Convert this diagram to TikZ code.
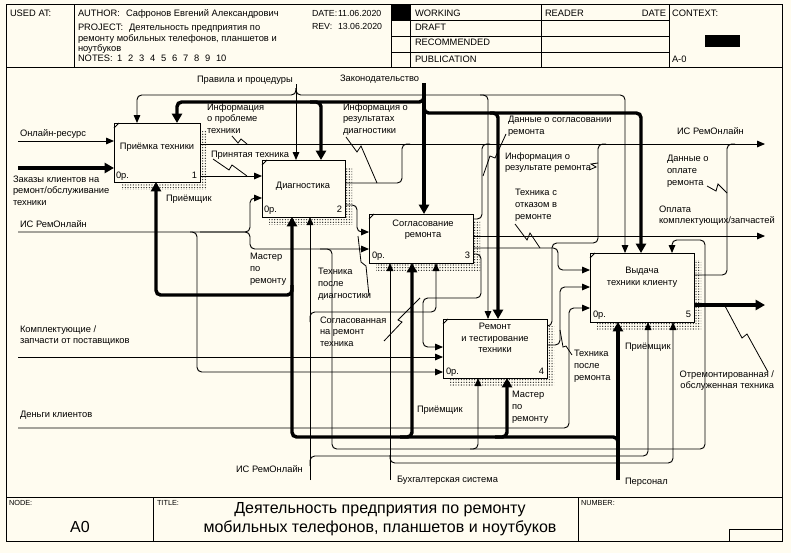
\documentclass[tikz,border=0pt]{standalone}
\usepackage{fontspec}
\setmainfont{Liberation Sans}
\usetikzlibrary{arrows.meta,patterns.meta,calc}
\definecolor{bg}{RGB}{255,252,240}
\begin{document}
\begin{tikzpicture}[x=0.75pt,y=-0.75pt,
  every node/.style={inner sep=0pt,outer sep=0pt},
  tn/.style={draw=black,line width=0.7pt},
  tk/.style={draw=black,line width=2.6pt},
  rc/.style={rounded corners=3.5pt},
  arw/.style={-{Triangle[length=6pt,width=5pt]}},
  arwK/.style={-{Triangle[length=7pt,width=7.5pt]}},
  box/.style={draw,line width=0.75pt,fill=bg},
  lb/.style={anchor=north west,align=left,font=\fontsize{7}{8.7}\selectfont,execute at begin node={\rule{0pt}{7pt}}},
  lbr/.style={anchor=north east,align=right,font=\fontsize{7}{8.7}\selectfont,execute at begin node={\rule{0pt}{7pt}}},
  bt/.style={anchor=north,align=center,font=\fontsize{7}{8.5}\selectfont,execute at begin node={\rule{0pt}{7pt}}},
  hd/.style={anchor=north west,align=left,font=\fontsize{7}{7.9}\selectfont,execute at begin node={\rule{0pt}{7pt}}},
  hds/.style={anchor=north west,align=left,font=\fontsize{6.6}{7.9}\selectfont,execute at begin node={\rule{0pt}{7pt}}},
  sm/.style={anchor=north west,font=\fontsize{5.5}{6}\selectfont,execute at begin node={\rule{0pt}{5.5pt}}},
  sq/.style={draw=black,line width=0.6pt},
  shd/.style={pattern={Dots[distance=2pt,radius=0.5pt]},pattern color=black!85},
]
\useasboundingbox (0,0) rectangle (791,553);
\fill[bg] (0,0) rectangle (791,553);

% ---------- frame and header ----------
\draw[line width=0.75pt] (6,4) rectangle (782,541);
\draw[line width=0.75pt] (6,67) -- (782,67);
\draw[line width=0.75pt] (74,4) -- (74,67);
\draw[line width=0.75pt] (391,4) -- (391,67);
\draw[line width=0.75pt] (410,4) -- (410,67);
\draw[line width=0.75pt] (541,4) -- (541,67);
\draw[line width=0.75pt] (669,4) -- (669,67);
\draw[line width=0.75pt] (391,20) -- (669,20) (391,36) -- (669,36) (391,52) -- (669,52);
\fill (391,4) rectangle (410,20);
\fill (705,35) rectangle (740,47);

\node[hd] (usedat) at (10,7.5) {USED AT:};
\node[hd] (author) at (78,7.5) {AUTHOR:};
\node[hd] (authorn) at (126,7.5) {Сафронов Евгений Александрович};
\node[hd] (project) at (78,21.5) {PROJECT:};
\node[hd] (projectn) at (129,21.5) {Деятельность предприятия по};
\node[hd] (project2) at (78,32) {ремонту мобильных телефонов, планшетов и};
\node[hd] (project3) at (78,42) {ноутбуков};
\node[hd] (notes) at (78,52.5) {NOTES:};
\foreach \k [count=\i from 0] in {1,2,3,4,5,6,7,8,9,10}
  \node[hd] (note\k) at (117+11*\i,52.5) {\k};
\node[hds] (date) at (312,7.5) {DATE:};
\node[hds] (datev) at (338,7.5) {11.06.2020};
\node[hds] (rev) at (312,20.5) {REV:};
\node[hds] (revv) at (338,20.5) {13.06.2020};
\node[hd] (working) at (415,7) {WORKING};
\node[hd] (draft) at (415,21.5) {DRAFT};
\node[hd] (recom) at (415,36.5) {RECOMMENDED};
\node[hd] (publ) at (415,53.5) {PUBLICATION};
\node[hd] (reader) at (545,7.5) {READER};
\node[hd,anchor=north east] (rdate) at (666,7.5) {DATE};
\node[hd] (context) at (672,7.5) {CONTEXT:};
\node[hd] (actx) at (672,53.5) {A-0};

% ---------- bottom block ----------
\draw[line width=0.75pt] (6,497) -- (782,497);
\draw[line width=0.75pt] (153,497) -- (153,541);
\draw[line width=0.75pt] (578,497) -- (578,541);
\draw[line width=0.75pt] (729,541) -- (729,529) -- (782,529);
\node[sm] (nodel) at (9,498.5) {NODE:};
\node[sm] (titlel) at (157,498.5) {TITLE:};
\node[sm] (numl) at (581,498.5) {NUMBER:};
\node[font=\fontsize{12}{14}\selectfont] (nodev) at (80,527) {A0};
\node[anchor=base,font=\fontsize{12}{14}\selectfont] (title1) at (380,513) {Деятельность предприятия по ремонту};
\node[anchor=base,font=\fontsize{12}{14}\selectfont] (title2) at (380,532) {мобильных телефонов, планшетов и ноутбуков};

% ---------- shadows ----------
\fill[shd] (121,130) rectangle (207,189);
\fill[shd] (269,167) rectangle (352,224);
\fill[shd] (376,221) rectangle (480,270);
\fill[shd] (450,326) rectangle (554,385);
\fill[shd] (597,260) rectangle (701,329);

% ---------- boxes ----------
\node[box,minimum width=64.5pt,minimum height=44.25pt] (b1) at (157,152.5) {};
\node[box,minimum width=62.25pt,minimum height=42.75pt] (b2) at (303.5,188.5) {};
\node[box,minimum width=78pt,minimum height=36.75pt] (b3) at (421,238.5) {};
\node[box,minimum width=78pt,minimum height=44.25pt] (b4) at (495,348.5) {};
\node[box,minimum width=78pt,minimum height=51.75pt] (b5) at (642,287.5) {};
\foreach \b in {b1,b2,b3,b4,b5}
  \draw[line width=0.6pt] ($(\b.north west)+(0,5)$) -- ($(\b.north west)+(5,0)$);

\node[bt] (b1t) at (157,140.5) {Приёмка техники};
\node[bt] (b2t) at (303,179.5) {Диагностика};
\node[bt,font=\fontsize{7}{8.3}\selectfont] (b3t) at (423,219.5) {Согласование\\ремонта};
\node[bt] (b4t) at (495,323.5) {Ремонт\\и тестирование\\техники};
\node[bt] (b5t) at (642,267.5) {Выдача\\техники клиенту};
\node[lb] (b1c) at (116,169.5) {0р.};
\node[lb] (b2c) at (264,203.5) {0р.};
\node[lb] (b3c) at (372,249.5) {0р.};
\node[lb] (b4c) at (446,365.5) {0р.};
\node[lb] (b5c) at (593,308.5) {0р.};
\node[lbr] (b1n) at (197,169.5) {1};
\node[lbr] (b2n) at (342,203.5) {2};
\node[lbr] (b3n) at (470,249.5) {3};
\node[lbr] (b4n) at (544,365.5) {4};
\node[lbr] (b5n) at (691,308.5) {5};

% ---------- boundary points ----------
\coordinate (iOnl) at (18,141);
\coordinate (iOrd) at (18,168);
\coordinate (iIS) at (18,232);
\coordinate (iKom) at (18,357);
\coordinate (iDen) at (18,428);
\coordinate (cPr) at (296,84);
\coordinate (cZak) at (424,83);
\coordinate (oIS) at (765,144);
\coordinate (oOpl) at (765,236);
\coordinate (oTech) at (765,305);
\coordinate (mPers) at (618,480);
\coordinate (mIS) at (310,480);
\coordinate (mBuh) at (390,480);

% ---------- inputs ----------
\draw[tn,arw] (iOnl) -- (iOnl -| b1.west);
\draw[tk,arwK] (iOrd) -- (iOrd -| b1.west);
\draw[tn,rc,arw] (iIS) -- (250,232) -- (250,198) -- (b2.west |- 0,198);
\draw[tn,rc,arw] (200,232) -- (250,232) -- (250,249) -- (b3.west |- 0,249);
\draw[tn,rc,arw] (190,232) -- (197,232) -- (197,372) -- (b4.west |- 0,372);
\draw[tn,arw] (iKom) -- (iKom -| b4.west);
\draw[tn,rc,arw] (iDen) -- (569,428) -- (569,308) -- (b5.west |- 0,308);
\draw[tn,rc,arw] (320,249) -- (332,249) -- (332,449) -- (705,449) -- (705,240) -- (672,240) -- (b5.north -| 672,0);
\draw[tn,rc,arw] (470,449) -- (478,449) -- (b4.south -| 478,0);

% ---------- controls ----------
\draw[tn,arw] (cPr) -- (cPr |- b2.north);
\draw[tn,rc,arw] (296,88) -- (296,95) -- (137,95) -- (b1.north -| 137,0);
\draw[tn,rc,arw] (296,88) -- (296,95) -- (625,95) -- (b5.north -| 625,0);
\draw[tn,rc,arw] (480,95) -- (488,95) -- (b4.north -| 488,0);
\draw[tk,arwK] (cZak) -- (cZak |- b3.north);
\draw[tk,rc,arwK] (424,92) -- (424,102) -- (177,102) -- (b1.north -| 177,0);
\draw[tk,rc,arwK] (310,102) -- (321,102) -- (b2.north -| 321,0);
\draw[tk,rc,arwK] (424,102) -- (424,113) -- (641,113) -- (b5.north -| 641,0);
\draw[tk,rc,arwK] (490,113) -- (498,113) -- (b4.north -| 498,0);

% ---------- outputs ----------
\draw[tn,arw] (b1.east |- 0,144) -- (oIS);
\draw[tn,arw] (b1.east |- 0,176) -- (b2.west |- 0,176);
\draw[tn,rc] (b2.east |- 0,183) -- (402,183) -- (402,144) -- (410,144);
\draw[tn,rc,arw] (b2.east |- 0,205) -- (357,205) -- (357,232) -- (b3.west |- 0,232);
\draw[tn,rc] (b3.east |- 0,219) -- (482,219) -- (482,144) -- (490,144);
\draw[tn,arw] (b3.east |- 0,236) -- (oOpl);
\draw[tn,rc,arw] (b3.east |- 0,248) -- (558,248) -- (558,270) -- (b5.west |- 0,270);
\draw[tn,rc,arw] (b3.east |- 0,254) -- (481,254) -- (481,298) -- (423,298) -- (423,347) -- (b4.west |- 0,347);
\draw[tn,rc] (b4.east |- 0,326) -- (552,326) -- (552,243) -- (598,243) -- (598,144) -- (606,144);
\draw[tn,rc,arw] (b4.east |- 0,345) -- (560,345) -- (560,287) -- (b5.west |- 0,287);
\draw[tn,rc] (b5.east |- 0,275) -- (727,275) -- (727,144) -- (735,144);
\draw[tk,arwK] (b5.east |- 0,305) -- (oTech);

% ---------- mechanisms ----------
\draw[tk,arwK] (mPers) -- (mPers |- b5.south);
\draw[tk,rc,arwK] (618,460) -- (618,437) -- (292,437) -- (b2.south -| 292,0);
\draw[tk,rc,arwK] (400,437) -- (412,437) -- (b3.south -| 412,0);
\draw[tk,rc,arwK] (495,437) -- (507,437) -- (b4.south -| 507,0);
\draw[tk,rc,arwK] (292,285) -- (292,295) -- (156,295) -- (b1.south -| 156,0);
\draw[tn,arw] (mIS) -- (mIS |- b2.south);
\draw[tn,rc,arw] (310,466) -- (310,456) -- (648,456) -- (b5.south -| 648,0);
\draw[tn,rc,arw] (310,322) -- (310,312) -- (436,312) -- (b3.south -| 436,0);
\draw[tn,arw] (mBuh) -- (mBuh |- b3.south);
\draw[tn,rc,arw] (390,455) -- (390,463) -- (673,463) -- (b5.south -| 673,0);

% ---------- squiggles ----------
\draw[sq] (232,136) -- (238,143) -- (241,139) -- (247,144);
\draw[sq] (213,159) -- (229,170) -- (232,165) -- (247,176);
\draw[sq] (346,137) -- (357,152) -- (361,146) -- (377,183);
\draw[sq] (506,134) -- (495,158) -- (490,156) -- (483,176);
\draw[sq] (589,170) -- (596,167) -- (591,164) -- (598,163);
\draw[sq] (515,224) -- (527,240) -- (530,233) -- (540,248);
\draw[sq] (707,186) -- (716,191) -- (718,184) -- (727,193);
\draw[sq] (369,296) -- (366,266) -- (361,262) -- (358,236);
\draw[sq] (384,341) -- (402,322) -- (398,320) -- (420,298);
\draw[sq] (572,355) -- (566,346) -- (563,347) -- (560,330);
\draw[sq] (725,306) -- (742,338) -- (747,334) -- (768,372);

% ---------- labels ----------
\node[lb] (lPr) at (197,73.5) {Правила и процедуры};
\node[lb] (lZak) at (340,72.5) {Законодательство};
\node[lb] (lInfP) at (207,103.5) {Информация\\о проблеме\\техники};
\node[lb] (lInfD) at (343,103.5) {Информация о\\результатах\\диагностики};
\node[lb] (lDs) at (508,116.5) {Данные о согласовании\\ремонта};
\node[lb] (lISo) at (677,125.5) {ИС РемОнлайн};
\node[lb] (lInfR) at (505,152.5) {Информация о\\результате ремонта};
\node[lb] (lDop) at (667,155.5) {Данные о\\оплате\\ремонта};
\node[lb] (lOtk) at (515,189.5) {Техника с\\отказом в\\ремонте};
\node[lb] (lOpl) at (659,205.5) {Оплата\\комплектующих/запчастей};
\node[lb] (lPrin) at (211,148.5) {Принятая техника};
\node[lb] (lPm1) at (166,192.5) {Приёмщик};
\node[lb] (lOnl) at (20,127.5) {Онлайн-ресурс};
\node[lb] (lOrd) at (13,175.5) {Заказы клиентов на\\ремонт/обслуживание\\техники};
\node[lb] (lISi) at (20,218.5) {ИС РемОнлайн};
\node[lb] (lMas1) at (250,253.5) {Мастер\\по\\ремонту};
\node[lb] (lTpd) at (318,268.5) {Техника\\после\\диагностики};
\node[lb] (lSogl) at (320,316.5) {Согласованная\\на ремонт\\техника};
\node[lb] (lKom) at (20,325.5) {Комплектующие /\\запчасти от поставщиков};
\node[lb] (lTpr) at (574,350.5) {Техника\\после\\ремонта};
\node[lb] (lPm3) at (625,340.5) {Приёмщик};
\node[lbr] (lOtr) at (774,370.5) {Отремонтированная /\\обслуженная техника};
\node[lb] (lMas2) at (512,391.5) {Мастер\\по\\ремонту};
\node[lb] (lPm2) at (417,403.5) {Приёмщик};
\node[lb] (lDen) at (20,408.5) {Деньги клиентов};
\node[lb] (lISm) at (236,463.5) {ИС РемОнлайн};
\node[lb] (lBuh) at (397,473.5) {Бухгалтерская система};
\node[lb] (lPers) at (625,475.5) {Персонал};
\end{tikzpicture}
\end{document}
